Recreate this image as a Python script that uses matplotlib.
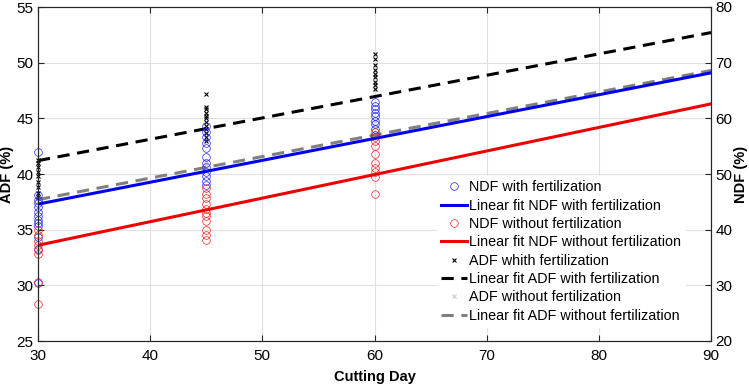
import matplotlib
matplotlib.use("Agg")
import matplotlib.pyplot as plt
import numpy as np

plt.rcParams['font.family'] = ['Liberation Sans', 'DejaVu Sans']

# Cutting days
days = [30, 45, 60]

# NDF (%) with fertilization, per cutting day (right axis)
ndf_fert = {
    30: [54.0, 46.2, 45.4, 44.8, 44.0, 43.2, 42.4, 41.8, 41.2, 40.6, 38.6, 36.6, 30.4],
    45: [58.6, 57.6, 56.6, 55.6, 54.6, 53.0, 52.0, 51.2, 50.4, 49.6, 48.8, 48.0],
    60: [63.0, 62.2, 61.6, 61.0, 60.4, 59.6, 59.0, 58.0, 57.0],
}
# NDF (%) without fertilization
ndf_nofert = {
    30: [40.0, 39.0, 38.0, 37.2, 36.4, 35.6, 30.6, 26.6],
    45: [47.4, 46.4, 45.6, 44.6, 43.8, 43.0, 42.4, 41.6, 40.0, 39.0, 38.2],
    60: [57.6, 56.6, 56.0, 55.0, 53.6, 52.0, 51.0, 50.4, 49.4, 46.4],
}
# ADF (%) with fertilization (left axis)
adf_fert = {
    30: [41.3, 41.0, 40.6, 40.2, 39.8, 39.3, 38.8, 38.3, 37.9],
    45: [47.2, 46.0, 45.8, 45.5, 45.2, 45.0, 44.7, 44.3, 44.0, 43.7, 43.3, 43.0],
    60: [50.8, 50.3, 49.8, 49.3, 49.0, 48.7, 48.3, 48.0, 47.6],
}
# ADF (%) without fertilization
adf_nofert = {
    30: [38.2, 37.9, 37.6],
    45: [41.2, 40.8, 40.4],
    60: [44.8, 44.2, 43.6],
}

# Linear fit coefficients (slope, intercept)
fit_ndf_fert = (0.393, 32.8)
fit_ndf_nofert = (0.4233, 24.5)
fit_adf_fert = (0.1917, 35.45)
fit_adf_nofert = (0.1933, 31.9)

x_fit = np.array([30, 90])

fig = plt.figure(figsize=(7.49, 3.85), dpi=100)
ax = fig.add_axes([38/749, 1-341/385, 673/749, 334/385])
ax2 = ax.twinx()

def scatter_dict(axis, d, **kw):
    xs, ys = [], []
    for k, v in d.items():
        xs += [k]*len(v)
        ys += v
    return axis.plot(xs, ys, linestyle='none', clip_on=False, **kw)[0]

# ADF on left axis
h_adf_nf = scatter_dict(ax, adf_nofert, marker='x', color='#cccccc', markersize=3.5, markeredgewidth=0.8,
                        label='ADF without fertilization')
h_adf_f = scatter_dict(ax, adf_fert, marker='x', color='black', markersize=3.5, markeredgewidth=0.8,
                       label='ADF whith fertilization')
h_fit_adf_f, = ax.plot(x_fit, fit_adf_fert[0]*x_fit + fit_adf_fert[1], '--', color='black', lw=2.2,
                       dashes=(4, 2.5), label='Linear fit ADF with fertilization')
h_fit_adf_nf, = ax.plot(x_fit, fit_adf_nofert[0]*x_fit + fit_adf_nofert[1], '--', color='#808080', lw=2.2,
                        dashes=(4, 2.5), label='Linear fit ADF without fertilization')

# NDF on right axis
h_ndf_f = scatter_dict(ax2, ndf_fert, marker='o', markerfacecolor='none', markeredgecolor='#2020ff',
                       markersize=5.5, markeredgewidth=0.5, label='NDF with fertilization')
h_ndf_nf = scatter_dict(ax2, ndf_nofert, marker='o', markerfacecolor='none', markeredgecolor='#ff2020',
                        markersize=5.5, markeredgewidth=0.5, label='NDF without fertilization')
h_fit_ndf_f, = ax2.plot(x_fit, fit_ndf_fert[0]*x_fit + fit_ndf_fert[1], '-', color='#0000ee', lw=2.2,
                        label='Linear fit NDF with fertilization')
h_fit_ndf_nf, = ax2.plot(x_fit, fit_ndf_nofert[0]*x_fit + fit_ndf_nofert[1], '-', color='#ee0000', lw=2.2,
                         label='Linear fit NDF without fertilization')

ax.set_xlim(30, 90)
ax.set_ylim(25, 55)
ax2.set_ylim(20, 80)
ax.set_xticks([30, 40, 50, 60, 70, 80, 90])
ax.set_yticks([25, 30, 35, 40, 45, 50, 55])
ax2.set_yticks([20, 30, 40, 50, 60, 70, 80])

ax.grid(True, color='#e0e0e0', lw=0.8)
ax.set_axisbelow(True)
for a in (ax, ax2):
    a.tick_params(direction='in', labelsize=11, color='#262626', length=4, width=0.8)
    for s in a.spines.values():
        s.set_color('#262626')
        s.set_linewidth(0.8)
ax.tick_params(axis='y', pad=3.5)
ax2.tick_params(axis='y', pad=3)
ax.tick_params(axis='x', pad=5.5)
ax2.tick_params(right=True)
ax.tick_params(top=True)

ax.set_xlabel('Cutting Day', fontsize=10.5, fontweight='bold', labelpad=5)
ax.set_ylabel('ADF (%)', fontsize=10.5, fontweight='bold', labelpad=1.5)
ax2.set_ylabel('NDF (%)', fontsize=10.5, fontweight='bold', labelpad=1)

handles = [h_ndf_f, h_fit_ndf_f, h_ndf_nf, h_fit_ndf_nf, h_adf_f, h_fit_adf_f, h_adf_nf, h_fit_adf_nf]
leg = ax2.legend(handles=handles, loc='lower right', bbox_to_anchor=(0.972, 0.02), fontsize=10.4,
                 frameon=True, fancybox=False, edgecolor='white', facecolor='white', framealpha=1,
                 handlelength=1.8, handletextpad=0.1, labelspacing=0.3, borderpad=0.3)

fig.savefig('out.png', dpi=100)
